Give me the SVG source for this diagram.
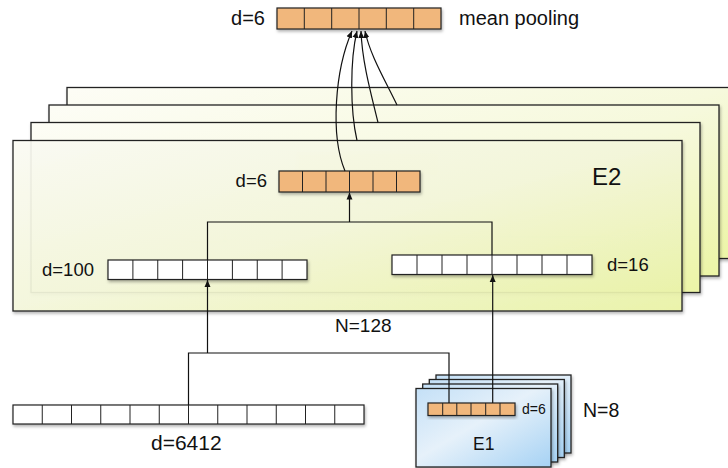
<svg xmlns="http://www.w3.org/2000/svg" width="728" height="468" viewBox="0 0 728 468">
<defs>
<linearGradient id="gY" x1="0" y1="0" x2="1" y2="1">
<stop offset="0" stop-color="#fdfdf6"/>
<stop offset="0.5" stop-color="#f6f9dc"/>
<stop offset="1" stop-color="#ecf5a6"/>
</linearGradient>
<linearGradient id="gB" x1="0" y1="0" x2="1" y2="1">
<stop offset="0" stop-color="#c4e0f7"/>
<stop offset="0.45" stop-color="#e6f1fa"/>
<stop offset="1" stop-color="#a6d2f4"/>
</linearGradient>
<filter id="sh" x="-10%" y="-10%" width="130%" height="140%">
<feDropShadow dx="1" dy="2" stdDeviation="1.5" flood-color="#000" flood-opacity="0.3"/>
</filter>
<filter id="blur"><feGaussianBlur stdDeviation="1.6"/></filter>
<marker id="ah" viewBox="0 0 8 8" refX="8" refY="4" markerWidth="7" markerHeight="7" markerUnits="userSpaceOnUse" orient="auto">
<path d="M0,0.6 L8,4 L0,7.4 z" fill="#111"/>
</marker>
</defs>
<style>
.panel{fill:url(#gY);stroke:#222;stroke-width:1.3;filter:url(#sh)}
.e1{fill:url(#gB);stroke:#222;stroke-width:1.3;filter:url(#sh)}
.box{fill:#fff;stroke:#222;stroke-width:1.2;filter:url(#sh)}
.obox{fill:#f1b77c;stroke:#222;stroke-width:1.2;filter:url(#sh)}
.cell{fill:none;stroke:#222;stroke-width:1}
.conn{fill:none;stroke:#111;stroke-width:1.2}
.ghost{fill:none;stroke:#888;stroke-width:1.2}
text{font-family:"Liberation Sans",Arial,sans-serif;fill:#111}
</style>

<g id="E2-stack">
<rect class="panel" x="67" y="87.5" width="669" height="171"/>
<rect class="panel" x="49" y="105" width="670" height="171"/>
<rect class="panel" x="31" y="122.5" width="669" height="170"/>
<g opacity="0.18" filter="url(#blur)">
<rect x="297" y="153" width="141" height="21" fill="#f1b77c"/>
<rect class="ghost" x="126" y="242" width="199" height="19"/>
<rect class="ghost" x="410" y="237" width="200" height="19"/>
<path class="ghost" d="M225,242 V204 H510 V237 M368,204 V174"/>
</g>
<rect class="panel" x="13" y="140.5" width="669" height="170.5" fill-opacity="0.9"/>
</g>

<g id="pool-top">
<rect class="obox" x="277" y="8" width="164" height="21"/>
<path class="cell" d="M304.3,8V29M331.7,8V29M359,8V29M386.3,8V29M413.7,8V29"/>
<text x="265" y="25" font-size="20" text-anchor="end">d=6</text>
<text x="459" y="25" font-size="20">mean pooling</text>
</g>

<g id="E2-pool">
<rect class="obox" x="279" y="171" width="141" height="21"/>
<path class="cell" d="M302.5,171V192M326,171V192M349.5,171V192M373,171V192M396.5,171V192"/>
<text x="267" y="187" font-size="18.5" text-anchor="end">d=6</text>
</g>

<g id="E2-label">
<text x="592" y="185" font-size="24">E2</text>
</g>

<g id="d100">
<rect class="box" x="108" y="260" width="199" height="19.5"/>
<path class="cell" d="M132.9,260V279.5M157.75,260V279.5M182.6,260V279.5M207.5,260V279.5M232.4,260V279.5M257.25,260V279.5M282.1,260V279.5"/>
<text x="42" y="276" font-size="18.5">d=100</text>
</g>

<g id="d16">
<rect class="box" x="392" y="255" width="200" height="19.5"/>
<path class="cell" d="M417,255V274.5M442,255V274.5M467,255V274.5M492,255V274.5M517,255V274.5M542,255V274.5M567,255V274.5"/>
<text x="607" y="271" font-size="18.5">d=16</text>
</g>

<g id="N128">
<text x="335" y="332" font-size="19">N=128</text>
</g>

<g id="d6412">
<rect class="box" x="13" y="405" width="351" height="19"/>
<path class="cell" d="M42.25,405V424M71.5,405V424M100.75,405V424M130,405V424M159.25,405V424M188.5,405V424M217.75,405V424M247,405V424M276.25,405V424M305.5,405V424M334.75,405V424"/>
<text x="151" y="450" font-size="21">d=6412</text>
</g>

<g id="E1-stack">
<rect class="e1" x="436" y="375" width="135" height="78"/>
<rect class="e1" x="429.3" y="379.5" width="135" height="78"/>
<rect class="e1" x="422.7" y="384" width="135" height="78"/>
<rect class="e1" x="416" y="388.5" width="135" height="78.5"/>
<rect class="obox" x="428" y="403" width="87" height="12.5"/>
<path class="cell" d="M442.7,403V415.5M456.8,403V415.5M471,403V415.5M485.7,403V415.5M500,403V415.5"/>
<text x="522" y="414" font-size="14">d=6</text>
<text x="473" y="450" font-size="17.5">E1</text>
<text x="583" y="417" font-size="19.5">N=8</text>
</g>

<g id="connectors">
<path class="conn" d="M207.5,260 V222 H492 V255"/>
<path class="conn" d="M349.5,222 V192.5" marker-end="url(#ah)"/>
<path class="conn" d="M207.5,353 V280" marker-end="url(#ah)"/>
<path class="conn" d="M188.5,405 V353 H449 V403"/>
<path class="conn" d="M492.7,403 V275" marker-end="url(#ah)"/>
<path class="conn" d="M345,171 C330,135 335,70 352,31" marker-end="url(#ah)"/>
<path class="conn" d="M357,140.5 C350,110 350,60 357,31" marker-end="url(#ah)"/>
<path class="conn" d="M378,122.5 C370,90 362,60 361,31" marker-end="url(#ah)"/>
<path class="conn" d="M397,105 C385,80 370,55 365,31" marker-end="url(#ah)"/>
</g>
</svg>
